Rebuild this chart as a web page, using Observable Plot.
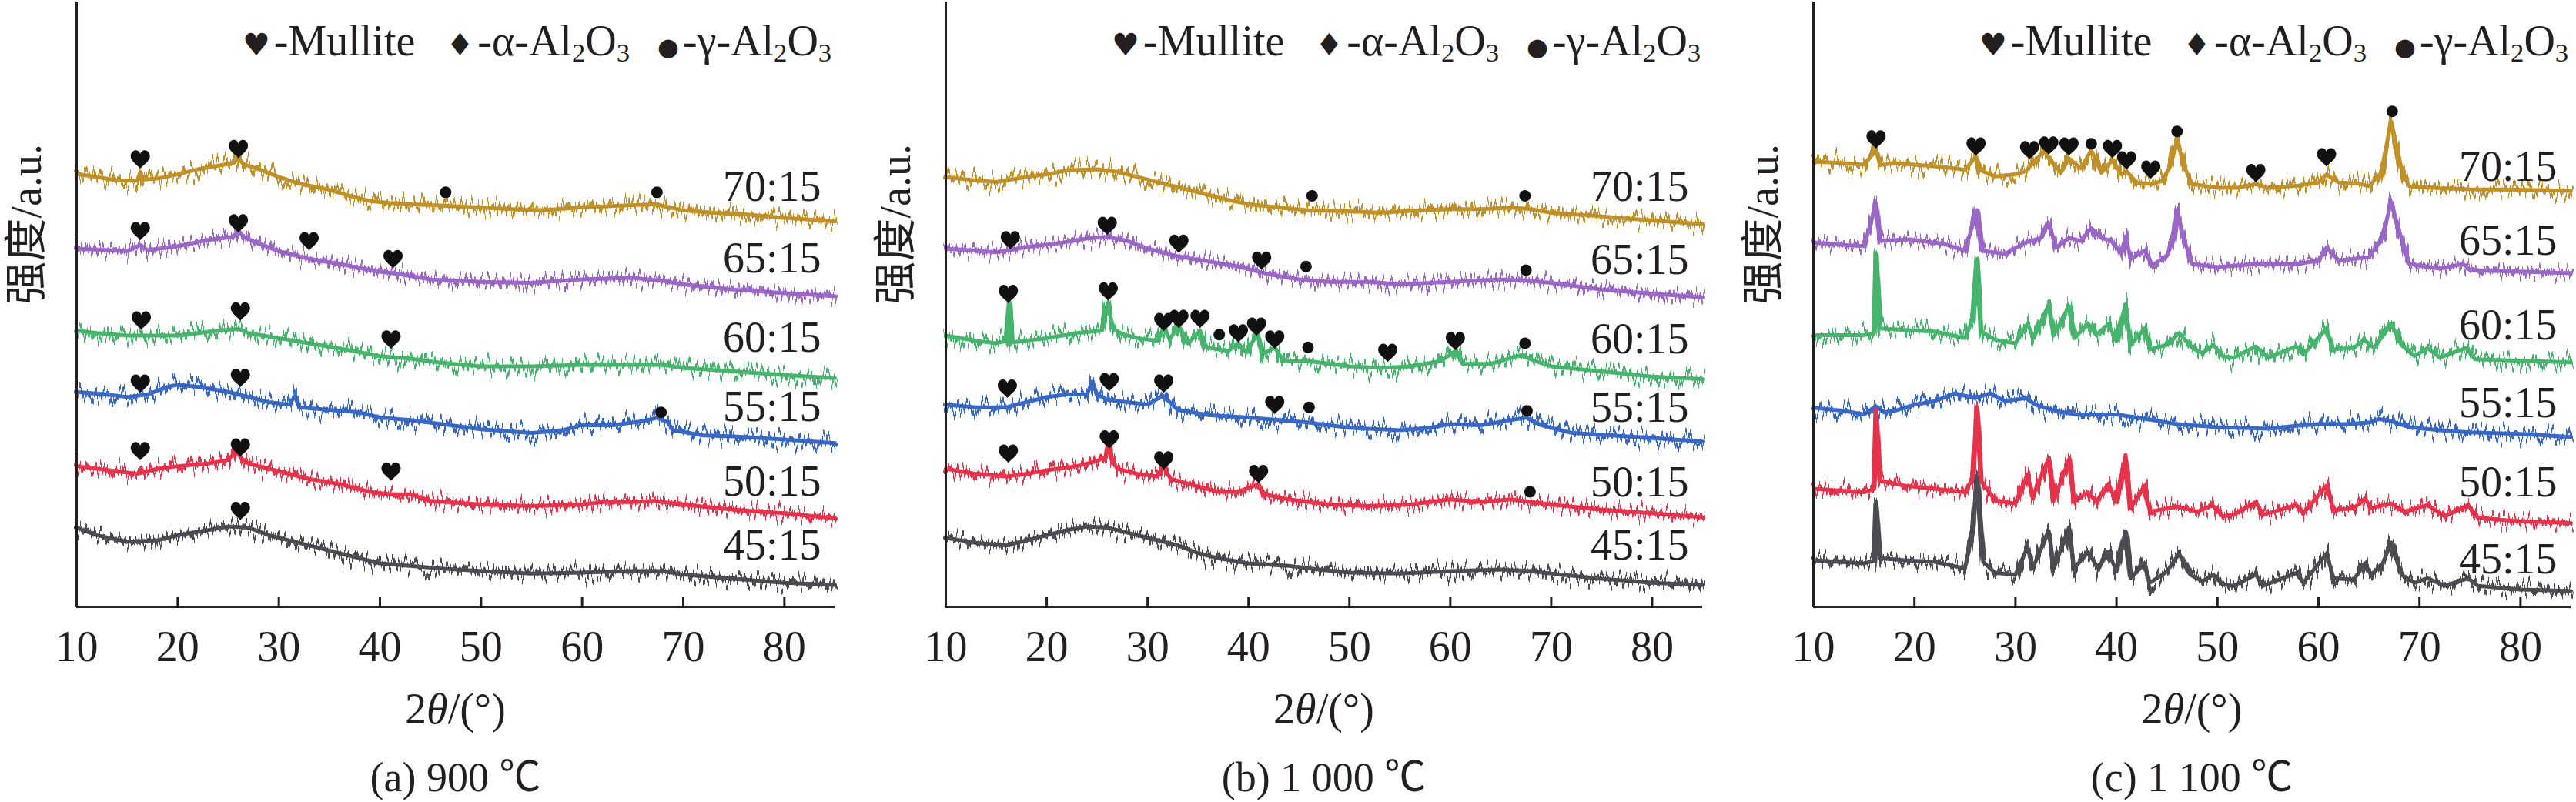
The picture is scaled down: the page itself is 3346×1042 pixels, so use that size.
<!DOCTYPE html>
<html><head><meta charset="utf-8">
<script src="https://cdn.jsdelivr.net/npm/d3@7"></script>
<script src="https://cdn.jsdelivr.net/npm/@observablehq/plot@0.6"></script>
<style>
body{margin:0;background:#fff;}
#wrap{display:flex;width:3346px;height:1042px;overflow:hidden;}
.panel{position:relative;height:1042px;flex:none;}
.panel svg{display:block;}
.txt{position:absolute;font-family:"Liberation Serif","Times New Roman","Noto Sans CJK SC",serif;font-size:56px;line-height:50px;color:#231f20;white-space:nowrap;}
.legend sub{font-size:0.62em;vertical-align:-0.22em;line-height:0;}
.sym{font-family:"DejaVu Sans",sans-serif;display:inline-block;}
.sym.h{font-size:40px;margin-right:5px;}
.sym.d{font-size:40px;margin-left:40px;margin-right:5px;}
.sym.o{font-size:32px;margin-left:36px;margin-right:5px;}
.cap{font-size:54px;line-height:48px;}
</style></head><body><div id="wrap"></div>
<script>
const xTicks=[10,20,30,40,50,60,70,80];
const sampleLabels=["70:15","65:15","60:15","55:15","50:15","45:15"];
const colors=["#C09128","#9A67C6","#46B46C","#3868C4","#E6334B","#4B4C52"];
const FONT='"Liberation Serif","Times New Roman",serif';

// ---------- (a) 900 ℃ ----------
const a70=[[10,846],[12,840],[14,833],[16,833],[16.3,850],[16.6,835],[18,837],[20,845],[22,855],[24,862],[25.5,867],[26,877],[26.5,865],[28,855],[30,840],[32,827],[33,823],[35,815],[37,803],[39,793],[41,789],[43,787],[45,785],[47,783],[50,780],[53,777],[56,775],[60,781],[63,783],[65,785],[67.4,787],[68,783],[70,775],[73,770],[76,767],[80,760],[83,756],[85,753]];
const a65=[[10,700],[13,697],[15,695],[16.3,707],[17,697],[20,705],[23,717],[25.5,723],[26,735],[26.5,723],[28,710],[30,695],[33,680],[36,670],[40,655],[42,650],[45,640],[50,635],[55,633],[60,640],[65,643],[68,637],[70,630],[75,620],[80,613],[85,607]];
const a60=[[10,540],[12,535],[15,530],[17,530],[20,530],[24,540],[26,543],[27,535],[30,525],[33,515],[36,505],[40,490],[43,485],[46,477],[50,470],[55,470],[60,473],[65,473],[68,473],[70,467],[75,460],[80,453],[85,447]];
const a55=[[10,420],[13,415],[15,410],[17,415],[19,430],[20,434],[22,430],[25,420],[27,410],[29,400],[31,395],[31.6,412],[32,390],[35,385],[38,380],[40,370],[43,365],[47,355],[50,347],[55,340],[58,345],[60,355],[63,355],[66,363],[67.5,370],[68.5,360],[69,345],[72,335],[75,333],[80,327],[85,320]];
const a50=[[10,275],[14,265],[16,260],[18,270],[20,275],[23,280],[25,287],[25.8,305],[26.3,290],[27,280],[30,265],[33,250],[36,240],[39,225],[41,220],[43,220],[45,207],[50,200],[55,197],[60,200],[62,205],[65,205],[67,207],[70,200],[75,190],[80,183],[85,173]];
const a45=[[10,155],[12,140],[15,127],[18,130],[20,140],[23,150],[25,157],[27,155],[29,140],[32,125],[35,110],[38,95],[40,85],[43,80],[46,75],[50,70],[55,65],[60,67],[65,70],[68,70],[70,63],[75,55],[80,47],[85,43]];
const aHearts=[[16.3,875],[26,895],[16.3,735],[26,750],[33,715],[41.3,680],[16.4,560],[26.2,578],[41.1,523],[16.3,437],[26.2,448],[16.3,305],[26.2,312],[41.1,265],[26.2,188]];
const aDots=[[46.5,810],[67.4,810],[67.8,380]];
const aLabelY=[820,680,525,390,245,120];

// ---------- (b) 1 000 ℃ ----------
const b70=[[10,840],[13,833],[15,830],[18,840],[20,845],[22,853],[25,855],[27,850],[29,840],[31,830],[33,820],[35,810],[38,795],[40,787],[43,780],[46,775],[50,773],[53,770],[57,775],[60,777],[63,777],[66,780],[68,777],[70,770],[75,763],[80,755],[85,748]];
const b65=[[10,700],[15,693],[18,703],[21,710],[24,720],[26,723],[28,715],[30,700],[33,685],[36,675],[39,665],[42,650],[45,640],[48,635],[52,635],[55,630],[60,635],[65,640],[68,637],[70,633],[75,620],[80,612],[85,605]];
const b60=[[10,530],[13,520],[15,515],[16,520],[16.3,595],[16.6,517],[20,525],[23,535],[25.5,540],[25.9,585],[26.1,595],[26.5,545],[27.5,533],[29,525],[31,520],[31.6,545],[32.2,523],[33.1,550],[34,515],[35.2,540],[35.8,507],[38,500],[39,515],[39.8,497],[40.9,535],[41.5,495],[42.6,507],[43.5,480],[46,480],[50,470],[53,467],[56,470],[59,480],[60.5,500],[61.2,475],[64,475],[67,492],[68.5,480],[70,470],[75,460],[80,450],[85,445]];
const b55=[[10,395],[13,390],[16,390],[18,400],[20,410],[22,415],[24,415],[24.5,440],[25,415],[26,405],[28,400],[30,395],[31.5,413],[33,385],[36,375],[40,370],[43,365],[46,360],[50,350],[55,345],[58,350],[60,357],[63,355],[66,365],[67.5,370],[69,355],[72,340],[76,335],[80,330],[85,323]];
const b50=[[10,270],[13,260],[16,255],[18,260],[20,267],[23,275],[25,285],[25.9,295],[26.1,325],[26.4,290],[27,270],[29,260],[31,255],[31.6,273],[32.3,250],[35,235],[37,225],[39,225],[41,240],[41.6,220],[44,210],[48,200],[52,197],[56,200],[60,210],[63,205],[66,210],[68,205],[70,200],[75,190],[80,183],[85,175]];
const b45=[[10,135],[13,125],[16,120],[18,130],[20,140],[22,150],[24,157],[26,155],[28,145],[30,135],[33,120],[35,105],[37,95],[40,85],[44,80],[47,73],[50,67],[55,65],[60,70],[65,73],[68,70],[70,65],[75,55],[80,47],[85,43]];
const bHearts=[[16.4,717],[26,745],[33.1,710],[41.3,677],[16.2,612],[26.1,617],[31.6,557],[33.1,563],[35.2,563],[39.0,535],[40.8,548],[42.6,523],[53.8,497],[60.5,520],[16.1,427],[26.2,440],[31.6,437],[42.6,395],[16.2,300],[26.2,328],[31.6,287],[41.0,260]];
const bDots=[[46.3,803],[67.4,803],[45.7,665],[67.5,658],[37.1,532],[45.9,507],[67.4,515],[46.0,390],[67.6,383],[67.9,225]];
const bLabelY=[820,678,523,388,243,120];

// ---------- (c) 1 100 ℃ ----------
const c70=[[10,870],[13,867],[15,864],[16.2,892],[16.6,863],[18,867],[20,864],[23,859],[25,854],[26.1,880],[26.5,853],[28,841],[30,845],[31,851],[32.3,879],[32.8,892],[33.5,873],[34.5,848],[35.3,876],[36.5,857],[37.5,892],[38.5,848],[39.6,873],[40.5,845],[41,851],[42,829],[43.5,826],[44.5,832],[45.3,860],[46,911],[46.7,860],[47.5,826],[50,819],[52,819],[53.8,826],[55,819],[58,823],[60,829],[60.8,845],[62,829],[64,827],[65,822],[66.2,848],[67.2,949],[68.3,848],[69,822],[72,818],[75,816],[80,815],[85,813]];
const c65=[[10,712],[13,707],[15,705],[16.2,785],[16.6,715],[19.5,718],[23,709],[25,696],[26.2,775],[26.7,696],[29,690],[31,712],[32.5,721],[33.3,750],[34,702],[35.3,721],[36.5,715],[37.5,740],[38.5,721],[39.5,715],[40.5,690],[40.9,724],[41.4,680],[42.8,696],[43.5,667],[45,686],[45.7,721],[46,775],[46.5,728],[47.5,670],[50,664],[53.8,670],[58,670],[60,677],[60.8,702],[62,677],[65,683],[66.3,721],[67.2,791],[68,734],[69,670],[72,661],[74.3,670],[75,658],[80,655],[85,652]];
const c60=[[10,531],[15,531],[16,535],[16.2,690],[16.6,544],[19,541],[22,538],[25,525],[25.8,563],[26.2,680],[26.6,538],[28,522],[30,515],[31.2,553],[31.8,525],[33.3,591],[33.8,531],[35.3,588],[35.8,525],[37.2,553],[38,531],[39.2,553],[40,519],[40.9,591],[41.4,512],[42.8,544],[43.3,503],[45,512],[46.2,535],[47.5,506],[48.5,496],[49.6,512],[50.5,490],[51.6,487],[53.8,509],[55,487],[57.8,509],[58.5,493],[60.8,544],[61.4,503],[63.5,506],[64.5,522],[65.5,506],[67.2,553],[68.2,512],[69.5,490],[70.8,506],[72,487],[74.6,506],[75.5,484],[80,481],[85,478]];
const c55=[[10,389],[13,383],[15,376],[16.2,392],[17,380],[18,383],[20,395],[22,402],[24,417],[26,408],[27.5,417],[29,402],[31,408],[32,395],[34,383],[36,376],[40,376],[43,367],[46,357],[50,351],[55,348],[58,354],[60,357],[63,357],[65,360],[66,367],[67,364],[69,351],[72,345],[75,341],[80,338],[85,332]];
const c50=[[10,231],[15,224],[16,230],[16.2,386],[16.6,246],[19,237],[22,231],[25,224],[25.8,253],[26.2,389],[26.6,246],[28,208],[30,202],[31.2,259],[31.7,215],[33.3,291],[33.8,208],[35.3,288],[35.8,205],[37.2,224],[38,205],[39.2,240],[40,205],[40.9,297],[41.4,193],[42.8,237],[43.3,186],[46,196],[48,186],[49.5,199],[50.5,177],[51.6,180],[53.8,205],[54.5,180],[57.8,199],[58.5,183],[60.8,237],[61.5,189],[63.5,193],[64.6,212],[65.2,193],[67.2,202],[68.5,186],[70.8,199],[72.5,177],[74.8,199],[75.8,174],[80,167],[85,164]];
const c45=[[10,91],[15,85],[16,90],[16.2,202],[16.6,95],[19,91],[22,88],[25,75],[25.8,151],[26.2,253],[26.8,88],[28,66],[30,63],[31.2,117],[31.7,75],[33.3,148],[33.8,75],[35.3,155],[35.8,75],[37.2,107],[38.2,75],[39.2,107],[40,69],[40.9,148],[41.4,56],[42.8,85],[43.3,47],[45,69],[46.2,104],[47.3,63],[48.5,50],[49.6,63],[50.5,44],[51.6,41],[53.8,63],[54.5,41],[57.8,66],[58.5,47],[60.8,104],[61.5,56],[63.5,53],[64.6,85],[65.2,63],[66.3,82],[67.2,126],[68.2,63],[69.5,47],[70.8,56],[72.5,41],[74.8,56],[75.8,41],[80,34],[85,31]];
const cHearts=[[16.2,914],[26.1,900],[31.4,893],[33.3,902],[35.3,900],[39.6,895],[41.0,873],[43.4,855],[53.8,848],[60.8,879]];
const cDots=[[37.5,905],[46.0,929],[67.3,968]];
const cLabelY=[860,715,550,398,243,92];

const panels=[
 {id:"a",caption:"(a) 900 ℃",width:1120,ml:99,mr:36,traces:[a70,a65,a60,a55,a50,a45],hearts:aHearts,dots:aDots,labelY:aLabelY},
 {id:"b",caption:"(b) 1 000 ℃",width:1120,ml:108,mr:29,traces:[b70,b65,b60,b55,b50,b45],hearts:bHearts,dots:bDots,labelY:bLabelY},
 {id:"c",caption:"(c) 1 100 ℃",width:1106,ml:115,mr:7,traces:[c70,c65,c60,c55,c50,c45],hearts:cHearts,dots:cDots,labelY:cLabelY}
];

// heart-shaped symbol for the Mullite peak markers
const heart={draw(ctx,size){
  const k=Math.sqrt(size/Math.PI)*2;
  ctx.moveTo(0,0.5*k);
  ctx.bezierCurveTo(-0.12*k,0.32*k,-0.5*k,0.12*k,-0.5*k,-0.14*k);
  ctx.bezierCurveTo(-0.5*k,-0.36*k,-0.34*k,-0.46*k,-0.24*k,-0.46*k);
  ctx.bezierCurveTo(-0.12*k,-0.46*k,-0.03*k,-0.38*k,0,-0.27*k);
  ctx.bezierCurveTo(0.03*k,-0.38*k,0.12*k,-0.46*k,0.24*k,-0.46*k);
  ctx.bezierCurveTo(0.34*k,-0.46*k,0.5*k,-0.36*k,0.5*k,-0.14*k);
  ctx.bezierCurveTo(0.5*k,0.12*k,0.12*k,0.32*k,0,0.5*k);
  ctx.closePath();
}};

const wrap=document.getElementById("wrap");
const H=870;
for(const p of panels){
  const fuzz=p.traces.map((t,i)=>Plot.line(t,{x:d=>d[0],y:d=>d[1],stroke:colors[i],strokeWidth:7,strokeLinejoin:"round"}));
  const core=p.traces.map((t,i)=>Plot.line(t,{x:d=>d[0],y:d=>d[1],stroke:colors[i],strokeWidth:5,strokeLinejoin:"round"}));
  const chart=Plot.plot({
    width:p.width,height:H,marginLeft:p.ml,marginRight:p.mr,marginTop:2,marginBottom:H-788,
    style:{fontFamily:FONT,fontSize:"56px",color:"#231f20",background:"#fff",overflow:"visible"},
    x:{domain:[10,85]},
    y:{domain:[0,1182],axis:null},
    marks:[
      ...fuzz,
      ...core,
      Plot.dot(p.hearts,{x:d=>d[0],y:d=>d[1],r:12.5,symbol:heart,fill:"#111",stroke:"none"}),
      Plot.dot(p.dots,{x:d=>d[0],y:d=>d[1],r:7.5,fill:"#111"}),
      Plot.text(sampleLabels,{y:(d,i)=>p.labelY[i],frameAnchor:"right",dx:-18,textAnchor:"end",fontSize:56,fill:"#231f20",fontFamily:FONT}),
      Plot.text(["强度/a.u."],{frameAnchor:"left",dx:-64,rotate:-90,fontSize:56,fill:"#231f20",fontFamily:'"Liberation Serif","Times New Roman","Noto Sans CJK SC",serif'}),
      Plot.axisX({ticks:xTicks,tickSize:0,tickPadding:31,fontSize:56,fontFamily:FONT,label:null,tickFormat:d=>String(d),fill:"#231f20"}),
      Plot.axisX({ticks:xTicks,tickSize:12,dy:-12,label:null,tickFormat:()=>"",strokeWidth:3,stroke:"#231f20"}),
      Plot.ruleY([0],{strokeWidth:3,stroke:"#231f20"}),
      Plot.ruleX([10],{strokeWidth:3,stroke:"#231f20"})
    ]
  });
  const ns="http://www.w3.org/2000/svg";
  const defs=document.createElementNS(ns,"defs");
  defs.innerHTML=`<filter id="n${p.id}" filterUnits="userSpaceOnUse" x="0" y="0" width="${p.width}" height="${H}" color-interpolation-filters="sRGB"><feTurbulence type="fractalNoise" baseFrequency="0.28 0.003" numOctaves="2" seed="5" result="t"/><feColorMatrix in="t" type="matrix" values="0 0 0 0 0.5  0 1 0 0 0  0 0 0 0 0  0 0 0 0 1" result="m"/><feDisplacementMap in="SourceGraphic" in2="m" scale="48" xChannelSelector="R" yChannelSelector="G"/></filter>`;
  chart.prepend(defs);
  const lineGroups=chart.querySelectorAll('g[aria-label="line"]');
  for(let i=0;i<p.traces.length;i++) lineGroups[i].setAttribute("filter",`url(#n${p.id})`);

  const div=document.createElement("div");
  div.className="panel";div.style.width=p.width+"px";
  div.appendChild(chart);
  const cx=p.ml+(p.width-p.ml-p.mr)/2;
  const lg=document.createElement("div");
  lg.className="txt legend";lg.style.left=(p.ml+216)+"px";lg.style.top="28px";
  lg.innerHTML='<span class="sym h">♥</span>-Mullite<span class="sym d">♦</span>-α-Al<sub>2</sub>O<sub>3</sub><span class="sym o">●</span>-γ-Al<sub>2</sub>O<sub>3</sub>';
  div.appendChild(lg);
  const xt=document.createElement("div");
  xt.className="txt";xt.style.left=cx+"px";xt.style.top="896px";xt.style.transform="translateX(-50%)";
  xt.innerHTML="2<i>θ</i>/(°)";
  div.appendChild(xt);
  const cap=document.createElement("div");
  cap.className="txt cap";cap.style.left=cx+"px";cap.style.top="986px";cap.style.transform="translateX(-50%)";
  cap.textContent=p.caption;
  div.appendChild(cap);
  wrap.appendChild(div);
}
</script></body></html>
